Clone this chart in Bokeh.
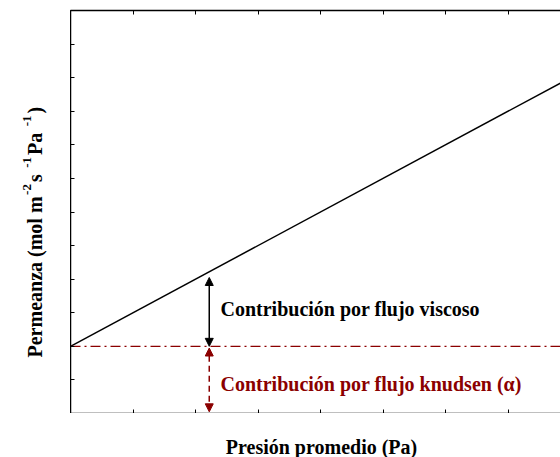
import math
from bokeh.plotting import figure
from bokeh.layouts import row, column
from bokeh.models import LinearAxis, FixedTicker, Label, Arrow, NormalHead, CustomJSTickFormatter
from bokeh.embed import file_html
from bokeh.resources import INLINE

# ---- data ----
x_line = [0, 8]
y_line = [2, 10]            # total permeance (alpha + beta * P)
y_knudsen = [2, 2]          # Knudsen contribution (alpha)
x_ticks = [0, 1, 2, 3, 4, 5, 6, 7, 8]
y_ticks = [0, 1, 2, 3, 4, 5, 6, 7, 8, 9, 10, 11, 12]
arrow_x = 2.22
viscous_top = 4.05
knudsen_level = 2.0
label_viscoso = "Contribución por flujo viscoso"
label_knudsen = "Contribución por flujo knudsen (α)"
x_label = "Presión promedio (Pa)"
y_label_parts = ["Permeanza (mol m", "-2", " s", "-1", " Pa", "-1", ")"]
y_label_sup = [False, True, False, True, False, True, False]

DARKRED = "#8B0000"
FONT = "Liberation Serif"
W, H = 560, 457
FL, FT, FB = 70, 10, 413   # frame left / top / bottom in page pixels

def blank_fig(w, h):
    f = figure(width=w, height=h, x_range=(0, w), y_range=(0, h),
               x_axis_type=None, y_axis_type=None, output_backend="svg",
               toolbar_location=None, min_border=0)
    f.outline_line_color = None
    f.background_fill_color = "white"
    f.border_fill_color = "white"
    return f

# ---- main plot ----
p = figure(width=W - FL, height=FB, x_range=(0, 7.84), y_range=(0, 12),
           x_axis_type=None, y_axis_type=None,
           output_backend="svg", toolbar_location=None,
           min_border_left=0, min_border_right=0, min_border_top=FT, min_border_bottom=0)
p.outline_line_color = None
p.background_fill_color = "white"
p.border_fill_color = "white"

def make_axis(ticks):
    return LinearAxis(ticker=FixedTicker(ticks=ticks),
                      formatter=CustomJSTickFormatter(code="return ''"),
                      major_label_text_font_size="0px",
                      major_label_standoff=0, major_tick_in=4, major_tick_out=0,
                      minor_tick_in=0, minor_tick_out=0,
                      axis_line_width=1.5, axis_line_color="black",
                      major_tick_line_color="black", major_tick_line_width=1)

p.add_layout(make_axis(x_ticks), "below")
p.add_layout(make_axis(x_ticks), "above")
p.add_layout(make_axis(y_ticks), "left")

p.line(x_line, y_line, line_color="black", line_width=1.5)
p.line(x_line, y_knudsen, line_color=DARKRED, line_width=1.2, line_dash="10 4 2 4")

p.add_layout(Arrow(x_start=arrow_x, y_start=knudsen_level, x_end=arrow_x, y_end=viscous_top,
                   line_color="black", line_width=1.5,
                   start=NormalHead(size=8, fill_color="black", line_color="black"),
                   end=NormalHead(size=8, fill_color="black", line_color="black")))
p.add_layout(Arrow(x_start=arrow_x, y_start=0.05, x_end=arrow_x, y_end=knudsen_level - 0.05,
                   line_color=DARKRED, line_width=1.5, line_dash="6 4",
                   start=NormalHead(size=8, fill_color=DARKRED, line_color=DARKRED),
                   end=NormalHead(size=8, fill_color=DARKRED, line_color=DARKRED)))

p.add_layout(Label(x=2.4, y=3.1, text=label_viscoso, text_font=FONT, text_font_style="bold",
                   text_font_size="20px", text_color="black", text_baseline="middle"))
p.add_layout(Label(x=2.4, y=0.89, text=label_knudsen, text_font=FONT, text_font_style="bold",
                   text_font_size="20px", text_color=DARKRED, text_baseline="middle"))

# ---- y axis title (left strip, 1 unit = 1 px, y measured up from page bottom) ----
ylab = blank_fig(FL, H)
main_w = {"Permeanza (mol m": 161.1, " s": 12.8, " Pa": 27.2, ")": 6.7}
sup_w, sup_pre, sup_post = 10.8, 1.5, 2.0
pos = 357.0   # page y of text start (bottom)
base_x = 34.0
for txt, sup in zip(y_label_parts, y_label_sup):
    if sup:
        pos -= sup_pre
    xp = base_x - (8.0 if sup else 0.0)
    ylab.add_layout(Label(x=xp, y=H - pos, text=txt, angle=math.pi / 2,
                          text_font=FONT, text_font_style="bold",
                          text_font_size="13px" if sup else "20px",
                          text_color="black", text_align="left", text_baseline="alphabetic"))
    pos -= (sup_w + sup_post) if sup else main_w[txt]

# ---- x axis title (bottom strip) ----
xlab = blank_fig(W - FL, H - FB)
xlab.add_layout(Label(x=321 - FL, y=H - 446, text=x_label,
                      text_font=FONT, text_font_style="bold", text_font_size="20px",
                      text_color="black", text_align="center", text_baseline="alphabetic"))

layout = row(ylab, column(p, xlab, spacing=0), spacing=0)
open("out.html", "w").write(file_html(layout, INLINE))
